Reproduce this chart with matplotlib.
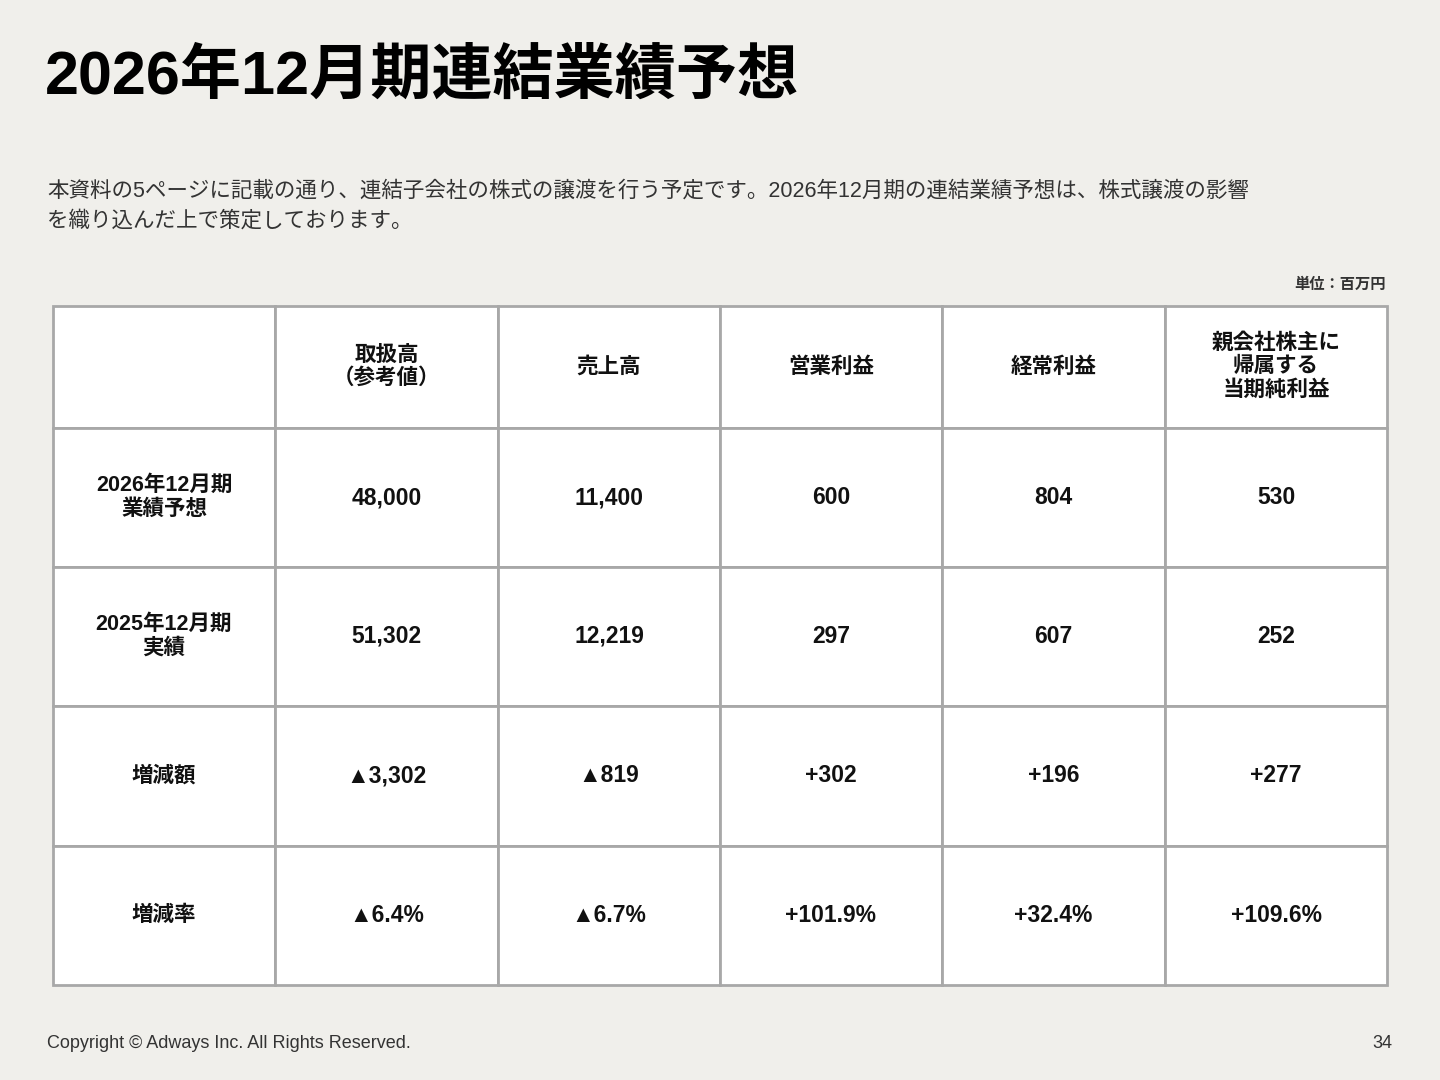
import matplotlib
matplotlib.use("Agg")
import matplotlib.pyplot as plt
from matplotlib.patches import Rectangle

plt.rcParams['font.family'] = ['Liberation Sans', 'Noto Sans CJK JP', 'DejaVu Sans']

title = "2026年12月期連結業績予想"
note_lines = ["本資料の5ページに記載の通り、連結子会社の株式の譲渡を行う予定です。2026年12月期の連結業績予想は、株式譲渡の影響",
              "を織り込んだ上で策定しております。"]
unit = "単位：百万円"
col_headers = ["", "取扱高\n（参考値）", "売上高", "営業利益", "経常利益", "親会社株主に\n帰属する\n当期純利益"]
row_headers = ["2026年12月期\n業績予想", "2025年12月期\n実績", "増減額", "増減率"]
forecast = ["48,000", "11,400", "600", "804", "530"]
actual = ["51,302", "12,219", "297", "607", "252"]
change = ["▲3,302", "▲819", "+302", "+196", "+277"]
rate = ["▲6.4%", "▲6.7%", "+101.9%", "+32.4%", "+109.6%"]
rows = [forecast, actual, change, rate]

bg = "#f0efeb"
fig = plt.figure(figsize=(14.4, 10.8), dpi=100, facecolor=bg)
ax = fig.add_axes([0, 0, 1, 1])
ax.set_xlim(0, 1440)
ax.set_ylim(1080, 0)
ax.axis("off")

ax.text(45, 78, title, fontsize=44, fontweight="bold", va="center", ha="left")
for i, line in enumerate(note_lines):
    ax.text(47, 191 + i * 30, line, fontsize=15.5, color="#333333", va="center")
ax.text(1386, 285, unit, fontsize=11, fontweight="bold", color="#333333", ha="right", va="center")

col_x = [53, 275, 498, 720, 942, 1165, 1387]
row_y = [306, 428, 567, 706, 846, 985]
line_c = "#a8a8a8"

table = [col_headers] + [[rh] + r for rh, r in zip(row_headers, rows)]
for r in range(len(row_y) - 1):
    for c in range(len(col_x) - 1):
        x0, x1 = col_x[c], col_x[c + 1]
        y0, y1 = row_y[r], row_y[r + 1]
        ax.add_patch(Rectangle((x0, y0), x1 - x0, y1 - y0, facecolor="white",
                               edgecolor=line_c, linewidth=2))
        txt = table[r][c]
        fs = 15.5 if (r == 0 or c == 0) else 16.5
        ax.text((x0 + x1) / 2, (y0 + y1) / 2, txt, fontsize=fs, fontweight="bold",
                ha="center", va="center", linespacing=1.15, color="#111111")

ax.text(47, 1044, "Copyright © Adways Inc. All Rights Reserved.", fontsize=13,
        color="#333333", va="center")
ax.text(1392, 1044, "34", fontsize=13, color="#333333", va="center", ha="right")

fig.savefig("out.png", dpi=100, facecolor=bg)
